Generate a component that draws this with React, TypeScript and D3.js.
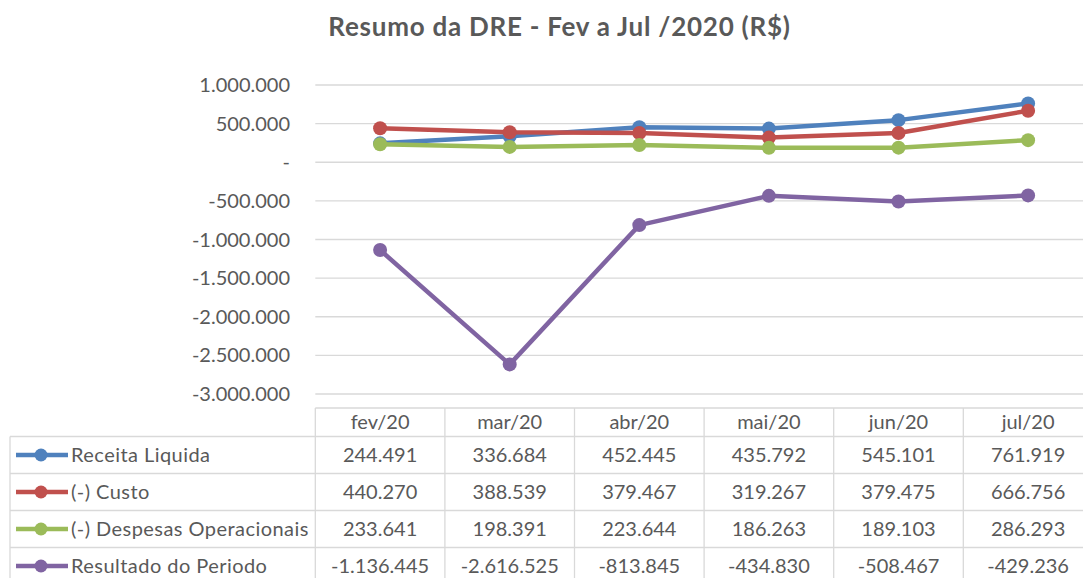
import React from "react";
import * as d3 from "d3";

const categories = ["fev/20", "mar/20", "abr/20", "mai/20", "jun/20", "jul/20"];
const seriesNames = ["Receita Liquida", "(-) Custo", "(-) Despesas Operacionais", "Resultado do Periodo"];
const receita = [244491, 336684, 452445, 435792, 545101, 761919];
const custo = [440270, 388539, 379467, 319267, 379475, 666756];
const despesas = [233641, 198391, 223644, 186263, 189103, 286293];
const resultado = [-1136445, -2616525, -813845, -434830, -508467, -429236];
const yTicks = [1000000, 500000, 0, -500000, -1000000, -1500000, -2000000, -2500000, -3000000];
const colors = ["#4F81BD", "#C0504D", "#9BBB59", "#8064A2"];
const title = "Resumo da DRE - Fev a Jul /2020 (R$)";

const W = 1083;
const H = 578;
const FONT = "Lato, 'Open Sans', sans-serif";
const TXT = "#595959";
const GRID = "#D9D9D9";

const fmt = (v: number) => {
  if (v === 0) return "-";
  const s = Math.abs(Math.round(v)).toString().replace(/\B(?=(\d{3})+(?!\d))/g, ".");
  return (v < 0 ? "-" : "") + s;
};

export default function App() {
  const allSeries = [receita, custo, despesas, resultado];
  const plotLeft = 315.3;
  const band = 129.6;
  const x = d3
    .scaleBand<string>()
    .domain(categories)
    .range([plotLeft, plotLeft + band * categories.length])
    .paddingInner(0)
    .paddingOuter(0);
  const y = d3.scaleLinear().domain([-3000000, 1000000]).range([394, 85]);
  const cx = (c: string) => (x(c) as number) + x.bandwidth() / 2;

  const line = d3
    .line<number>()
    .x((_, i) => cx(categories[i]))
    .y((d) => y(d));

  const tableTop = 408;
  const headerBottom = 436.5;
  const rowH = 37;
  const tableLeft = 10;
  const rightEdge = plotLeft + band * categories.length;

  return (
    <svg
      width={W}
      height={H}
      style={{ position: "absolute", left: 0, top: 0, background: "#fff" }}
      fontFamily={FONT}
    >
      <rect x={0} y={0} width={W} height={H} fill="#fff" />
      <text x={559.5} y={35.5} textAnchor="middle" fontSize={26} fontWeight={700} letterSpacing={0.75} fill={TXT}>
        {title}
      </text>

      {/* gridlines */}
      {yTicks.map((t) => (
        <line key={"g" + t} x1={plotLeft} x2={rightEdge} y1={y(t)} y2={y(t)} stroke={GRID} strokeWidth={1.3} />
      ))}
      {yTicks.map((t) => (
        <text
          key={"yl" + t}
          x={290}
          y={y(t)}
          dy="0.35em"
          textAnchor="end"
          fontSize={20}
          fill={TXT}
        >
          {fmt(t)}
        </text>
      ))}

      {/* table grid */}
      <line x1={plotLeft} x2={rightEdge} y1={tableTop} y2={tableTop} stroke={GRID} strokeWidth={1.3} />
      {seriesNames.map((_, i) => (
        <line
          key={"h" + i}
          x1={tableLeft}
          x2={rightEdge}
          y1={headerBottom + i * rowH}
          y2={headerBottom + i * rowH}
          stroke={GRID}
          strokeWidth={1.3}
        />
      ))}
      <line x1={tableLeft} x2={tableLeft} y1={headerBottom} y2={H} stroke={GRID} strokeWidth={1.3} />
      {categories.map((c) => (
        <line key={"v" + c} x1={x(c)} x2={x(c)} y1={tableTop} y2={H} stroke={GRID} strokeWidth={1.3} />
      ))}

      {/* header */}
      {categories.map((c) => (
        <text key={"c" + c} x={cx(c)} y={(tableTop + headerBottom) / 2} dy="0.35em" textAnchor="middle" fontSize={20} fill={TXT}>
          {c}
        </text>
      ))}

      {/* rows */}
      {allSeries.map((s, i) => {
        const cy = headerBottom + i * rowH + rowH / 2;
        return (
          <g key={"r" + i}>
            <line x1={16} x2={68} y1={cy} y2={cy} stroke={colors[i]} strokeWidth={4.5} />
            <circle cx={41} cy={cy} r={6.5} fill={colors[i]} />
            <text x={71} y={cy} dy="0.35em" fontSize={20} letterSpacing={0.45} fill={TXT}>
              {seriesNames[i]}
            </text>
            {s.map((v, j) => (
              <text key={j} x={cx(categories[j])} y={cy} dy="0.35em" textAnchor="middle" fontSize={20} fill={TXT}>
                {fmt(v)}
              </text>
            ))}
          </g>
        );
      })}

      {/* lines */}
      {allSeries.map((s, i) => (
        <g key={"s" + i}>
          <path d={line(s) || ""} fill="none" stroke={colors[i]} strokeWidth={4.5} strokeLinejoin="round" strokeLinecap="round" />
          {s.map((v, j) => (
            <circle key={j} cx={cx(categories[j])} cy={y(v)} r={7} fill={colors[i]} />
          ))}
        </g>
      ))}
    </svg>
  );
}
